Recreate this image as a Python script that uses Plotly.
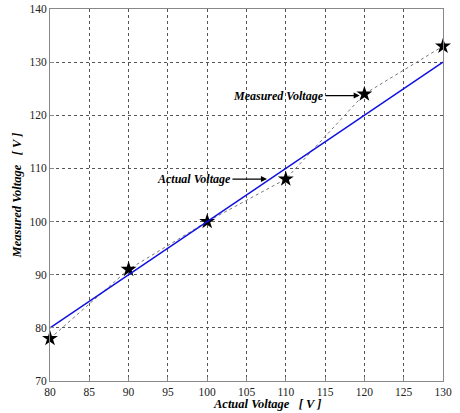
import plotly.graph_objects as go

actual_x = [80, 90, 100, 110, 120, 130]
actual_y = [80, 90, 100, 110, 120, 130]
measured_y = [78, 91, 100, 108, 124, 133]
x_ticks = [80, 85, 90, 95, 100, 105, 110, 115, 120, 125, 130]
y_ticks = [70, 80, 90, 100, 110, 120, 130, 140]

serif = "'Liberation Serif', 'Times New Roman', 'DejaVu Serif', serif"

fig = go.Figure()
fig.add_trace(go.Scatter(
    x=actual_x, y=measured_y, mode="lines+markers",
    line=dict(color="#777777", width=1, dash="dot"),
    marker=dict(symbol="star", size=12, color="black"),
    showlegend=False, cliponaxis=False))
fig.add_trace(go.Scatter(
    x=actual_x, y=actual_y, mode="lines",
    line=dict(color="#1010e0", width=1.6),
    showlegend=False))

axis_common = dict(
    showgrid=True, gridcolor="#555555", griddash="dot", gridwidth=1,
    showline=True, linecolor="#888888", linewidth=1, mirror=True,
    ticks="inside", ticklen=4, tickcolor="#888888",
    tickfont=dict(family=serif, size=11.5, color="#222222"),
    zeroline=False, automargin=False)

fig.update_xaxes(range=[80, 130], tickvals=x_ticks, **axis_common)
fig.update_yaxes(range=[70, 140], tickvals=y_ticks, **axis_common)

title_font = dict(family=serif, size=12.5, color="black")
fig.add_annotation(xref="paper", yref="paper", x=0.552, y=-0.062,
                   yanchor="middle", xanchor="center", showarrow=False,
                   text="<b><i>Actual Voltage   [ V ]</i></b>", font=title_font)
fig.add_annotation(xref="paper", yref="paper", x=-0.083, y=0.5,
                   xanchor="center", yanchor="middle", showarrow=False, textangle=-90,
                   text="<b><i>Measured Voltage   [ V ]</i></b>", font=title_font)

fig.add_annotation(x=107.6, y=108, text="<b><i>Actual Voltage</i></b>",
                   showarrow=True, ax=-73, ay=0, arrowhead=2, arrowsize=1,
                   arrowwidth=1.2, arrowcolor="black", standoff=0,
                   font=dict(family=serif, size=12, color="black"))
fig.add_annotation(x=119.4, y=123.7, text="<b><i>Measured Voltage</i></b>",
                   showarrow=True, ax=-81, ay=0, arrowhead=2, arrowsize=1,
                   arrowwidth=1.2, arrowcolor="black", standoff=0,
                   font=dict(family=serif, size=12, color="black"))

fig.update_layout(
    width=460, height=413,
    margin=dict(l=50, r=17, t=9, b=32),
    paper_bgcolor="white", plot_bgcolor="white")

fig.write_html("out.html", config={"displayModeBar": False},
               post_script="document.body.style.margin='0';document.body.style.overflow='hidden';")
